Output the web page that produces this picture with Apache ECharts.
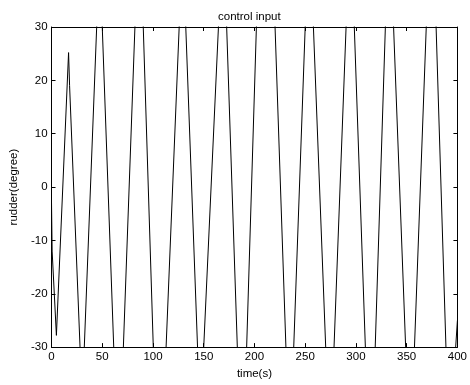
<!DOCTYPE html>
<html><head><meta charset="utf-8">
<script src="https://cdn.jsdelivr.net/npm/echarts@6/dist/echarts.min.js"></script>
<style>html,body{margin:0;padding:0;background:#fff}#c{width:470px;height:385px}</style>
</head><body><div id="c"></div>
<script>
const titleText = 'control input';
const xName = 'time(s)';
const yName = 'rudder(degree)';
const xTicks = [0, 50, 100, 150, 200, 250, 300, 350, 400];
const yTicks = [-30, -20, -10, 0, 10, 20, 30];

// rudder signal: extremes and the points where it crosses ±30
const times = [
  0, 0.6, 4.8, 16.8, 17.8,
  28.1, 30.2, 32.3,
  44.5, 47.3, 50.0,
  61.3, 66.1, 70.8,
  82.2, 86.3, 90.4,
  100.3, 106.6, 112.9,
  125.8, 129.1, 132.3,
  143.9, 147.0, 150.0,
  164.5, 168.6, 172.6,
  183.1, 187.7, 192.3,
  201.9, 211.1, 220.3,
  231.0, 234.9, 238.7,
  250.0, 254.1, 258.1,
  270.2, 274.3, 278.4,
  290.3, 294.4, 298.4,
  309.3, 314.2, 319.0,
  329.0, 333.1, 337.1,
  349.0, 353.4, 357.7,
  369.3, 374.2, 379.0,
  388.7, 393.5, 398.3,
  400
];
const rudder = [
  -3, -12, -27.8, 25.2, 19,
  -30, -41, -30,
  30, 44, 30,
  -30, -55, -30,
  30, 51, 30,
  -30, -63, -30,
  30, 47, 30,
  -30, -46, -30,
  30, 51, 30,
  -30, -54, -30,
  30, 78, 30,
  -30, -50, -30,
  30, 51, 30,
  -30, -51, -30,
  30, 51, 30,
  -30, -55, -30,
  30, 51, 30,
  -30, -53, -30,
  30, 55, 30,
  -30, -55, -30,
  -25
];

const FONT = 'Liberation Sans, Arial, Helvetica, sans-serif';
const FS = 11.5;
const data = times.map((t, i) => [t, rudder[i]]);
const xMin = xTicks[0], xMax = xTicks[xTicks.length - 1], xInt = xTicks[1] - xTicks[0];
const yMin = yTicks[0], yMax = yTicks[yTicks.length - 1], yInt = yTicks[1] - yTicks[0];

const axisCommon = {
  type: 'value',
  splitLine: { show: false },
  axisLine: { show: true, onZero: false, lineStyle: { color: '#000', width: 1 } },
  axisTick: { show: true, inside: true, length: 4, lineStyle: { color: '#000', width: 1 } }
};

const chart = echarts.init(document.getElementById('c'), null, { renderer: 'canvas' });
chart.setOption({
  animation: false,
  backgroundColor: '#fff',
  title: {
    text: titleText, left: 213, top: 6,
    textStyle: { fontFamily: FONT, fontSize: FS, fontWeight: 'normal', color: '#000' }
  },
  grid: { left: 48, right: 8, top: 27, bottom: 33, containLabel: false },
  xAxis: [
    Object.assign({}, axisCommon, {
      position: 'bottom', min: xMin, max: xMax, interval: xInt,
      name: xName, nameLocation: 'middle', nameGap: 17,
      nameTextStyle: { fontFamily: FONT, fontSize: FS, color: '#000' },
      axisLabel: { margin: 4, fontFamily: FONT, fontSize: FS, color: '#000', showMaxLabel: true, showMinLabel: true }
    }),
    Object.assign({}, axisCommon, {
      position: 'top', min: xMin, max: xMax, interval: xInt,
      axisLabel: { show: false }
    })
  ],
  yAxis: [
    Object.assign({}, axisCommon, {
      position: 'left', min: yMin, max: yMax, interval: yInt,
      name: yName, nameLocation: 'middle', nameGap: 30, nameRotate: 90,
      nameTextStyle: { fontFamily: FONT, fontSize: FS, color: '#000' },
      axisLabel: { margin: 4, fontFamily: FONT, fontSize: FS, color: '#000' }
    }),
    Object.assign({}, axisCommon, {
      position: 'right', min: yMin, max: yMax, interval: yInt,
      axisLabel: { show: false }
    })
  ],
  series: [{
    type: 'line',
    data: data,
    xAxisIndex: 0, yAxisIndex: 0,
    showSymbol: false,
    symbol: 'none',
    clip: true,
    lineStyle: { color: '#000', width: 1 },
    emphasis: { disabled: true }
  }]
});
</script>
</body></html>
